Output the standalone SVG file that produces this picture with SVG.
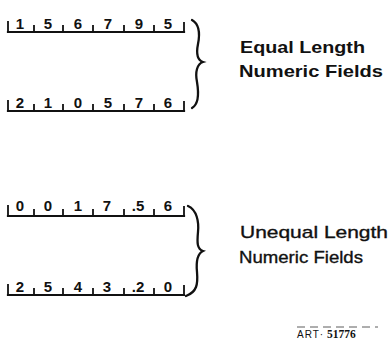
<svg xmlns="http://www.w3.org/2000/svg" width="390" height="352" viewBox="0 0 390 352">
<style>
.d{font-family:"Liberation Sans",Arial,sans-serif;font-weight:bold;font-size:15px;fill:#111;text-anchor:middle}
.ln{stroke:#111;stroke-width:2.2;fill:none;stroke-linecap:square}
.tk{stroke:#111;stroke-width:1.8;fill:none}
.br{stroke:#111;stroke-width:2.3;fill:none;stroke-linecap:round}
.lb{font-family:"Liberation Sans",Arial,sans-serif;font-size:17px;fill:#111}
</style>
<defs>
<g id="ticks">
<path class="ln" d="M8,0H184"/>
<path class="tk" d="M8,0V-11M34,0V-7M63,0V-7M93,0V-7M124,0V-7M154,0V-7M184,0V-10"/>
</g>
</defs>
<g id="field1">
<use href="#ticks" transform="translate(0,32)"/>
<text class="d" x="20" y="29">1</text><text class="d" x="48" y="29">5</text><text class="d" x="78" y="29">6</text><text class="d" x="108" y="29">7</text><text class="d" x="139" y="29">9</text><text class="d" x="168" y="29">5</text>
</g>
<g id="field2">
<use href="#ticks" transform="translate(0,111)"/>
<text class="d" x="20" y="108">2</text><text class="d" x="48" y="108">1</text><text class="d" x="78" y="108">0</text><text class="d" x="108" y="108">5</text><text class="d" x="139" y="108">7</text><text class="d" x="168" y="108">6</text>
</g>
<g id="field3">
<use href="#ticks" transform="translate(0,216)"/>
<text class="d" x="20" y="211">0</text><text class="d" x="48" y="211">0</text><text class="d" x="78" y="211">1</text><text class="d" x="107" y="211">7</text><text class="d" x="138" y="211">.5</text><text class="d" x="168" y="211">6</text>
</g>
<g id="field4">
<use href="#ticks" transform="translate(0,295)"/>
<text class="d" x="20" y="292">2</text><text class="d" x="48" y="292">5</text><text class="d" x="78" y="292">4</text><text class="d" x="107" y="292">3</text><text class="d" x="138" y="292">.2</text><text class="d" x="168" y="292">0</text>
</g>
<g id="connectors">
<path id="brace1" class="br" d="M192,20 C199,24 200,34 198,44 C196,54 197,60 203,62 C197,64 195,72 197,82 C199,94 199,104 192,108"/>
<path id="brace2" class="br" d="M188,206 C197,210 199,222 198,232 C197,243 197,249 203,251 C197,254 196,262 197,272 C198,284 197,292 186,296"/>
</g>
<g id="label1">
<text class="lb" font-weight="bold" x="240" y="53" textLength="125" lengthAdjust="spacingAndGlyphs">Equal Length</text>
<text class="lb" font-weight="bold" x="239" y="77" textLength="144" lengthAdjust="spacingAndGlyphs">Numeric Fields</text>
</g>
<g id="label2">
<text class="lb" x="240" y="238" textLength="148" lengthAdjust="spacingAndGlyphs" stroke="#111" stroke-width="0.35">Unequal Length</text>
<text class="lb" x="239" y="263" textLength="124" lengthAdjust="spacingAndGlyphs" stroke="#111" stroke-width="0.35">Numeric Fields</text>
</g>
<g id="art">
<path d="M297,327H378" stroke="#333" stroke-width="0.8" stroke-dasharray="8,5"/>
<text x="297" y="338" font-family="Liberation Sans,Arial,sans-serif" font-size="10" fill="#111" letter-spacing="1">ART·</text>
<text x="327" y="338" font-family="Liberation Serif,Times New Roman,serif" font-weight="bold" font-size="11.5" fill="#111">51776</text>
</g>
</svg>
